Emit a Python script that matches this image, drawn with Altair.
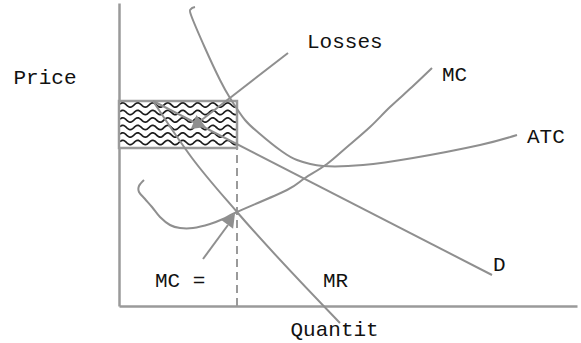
import numpy as np
import pandas as pd
import altair as alt

# Quantity / price units: origin at the axis corner.
MC_Q = [25, 20, 20, 26, 33, 41, 51, 61, 74, 91, 104, 118, 168, 186, 208, 228, 251, 271, 293, 313]
MC_P = [126, 120, 114, 107, 99, 89, 81, 78, 78, 82, 87, 94, 116, 128, 142, 159, 179, 199, 219, 238]

ATC_Q = [76, 72, 72, 86, 101, 111, 126, 141, 161, 178, 204, 244, 294, 361, 398]
ATC_P = [299, 297, 291, 258, 226, 208, 186, 172, 156, 146, 140, 141, 148, 161, 171]

D_Q = [34, 373]
D_P = [205, 31]

MR_Q = [34, 73, 118, 221]
MR_P = [205, 148, 94, -17]

# Loss rectangle (between ATC and price at the chosen output)
LOSS_Q = [0, 118]
LOSS_P = [158, 205]
Q_STAR = 118

# Annotation arrows: start point, end of shaft, head position and heading
ARROW_Q0 = [169, 84]
ARROW_P0 = [253, 47]
ARROW_Q1 = [80, 109]
ARROW_P1 = [184, 81]
HEAD_Q = [77, 112]
HEAD_P = [181, 87]
HEAD_ANGLE = [232, 37]

LABELS = ["Losses", "MC", "ATC", "D", "MR", "MC ="]
LABEL_Q = [188, 323, 408, 374, 204, 36]
LABEL_P = [258, 225, 163, 35, 19, 19]

FONT = "Courier New, Liberation Mono, monospace"
FSIZE = 21
GREY = "#8f8f8f"
AXIS_GREY = "#9a9a9a"

xenc = alt.X(
    "q:Q",
    scale=alt.Scale(domain=[0, 458], nice=False, zero=False),
    axis=alt.Axis(
        ticks=False, labels=False, grid=False,
        domainColor=AXIS_GREY, domainWidth=2.5,
        title="Quantit", titleX=171, titleY=29,
        titleAlign="left", titleBaseline="alphabetic",
        titleFont=FONT, titleFontSize=FSIZE, titleFontWeight="normal",
        titleColor="#111111",
    ),
)
yenc = alt.Y(
    "p:Q",
    scale=alt.Scale(domain=[0, 303], nice=False, zero=False),
    axis=alt.Axis(
        ticks=False, labels=False, grid=False,
        domainColor=AXIS_GREY, domainWidth=2.5,
        title="Price", titleAngle=0, titleX=-106, titleY=80,
        titleAlign="left", titleBaseline="alphabetic",
        titleFont=FONT, titleFontSize=FSIZE, titleFontWeight="normal",
        titleColor="#111111",
    ),
)


def path_df(qs, ps):
    return pd.DataFrame({"q": qs, "p": ps, "i": range(len(qs))})


def curve(qs, ps, interp="linear"):
    return (
        alt.Chart(path_df(qs, ps))
        .mark_line(color=GREY, strokeWidth=2, interpolate=interp)
        .encode(x=xenc, y=yenc, order=alt.Order("i:Q"))
    )


rect_df = pd.DataFrame({"q": [LOSS_Q[0]], "q2": [LOSS_Q[1]], "p": [LOSS_P[0]], "p2": [LOSS_P[1]]})
rect_fill = alt.Chart(rect_df).mark_rect(fill="white").encode(
    x=xenc, x2="q2", y=yenc, y2="p2"
)
rect_border = alt.Chart(rect_df).mark_rect(fill=None, stroke=AXIS_GREY, strokeWidth=2.5).encode(
    x=xenc, x2="q2", y=yenc, y2="p2"
)

# Wavy hatching of the loss area
rows = []
qq = np.linspace(LOSS_Q[0] + 1, LOSS_Q[1] - 1, 120)
for r, base in enumerate([201, 193.5, 186, 178.5, 171, 163.5]):
    for k, qv in enumerate(qq):
        rows.append({"q": qv, "p": base + 2.2 * np.sin(2 * np.pi * qv / 15.0), "row": r, "i": k})
waves = (
    alt.Chart(pd.DataFrame(rows))
    .mark_line(color="#1c1c1c", strokeWidth=1.7)
    .encode(x=xenc, y=yenc, detail="row:N", order=alt.Order("i:Q"))
)

dash_df = pd.DataFrame({"q": [Q_STAR], "p": [0], "p2": [LOSS_P[0]]})
dashed = alt.Chart(dash_df).mark_rule(color=AXIS_GREY, strokeWidth=2, strokeDash=[8, 5]).encode(
    x=xenc, y=yenc, y2="p2"
)

arrow_df = pd.DataFrame({"q": ARROW_Q0, "p": ARROW_P0, "q2": ARROW_Q1, "p2": ARROW_P1})
shafts = alt.Chart(arrow_df).mark_rule(color=GREY, strokeWidth=2).encode(
    x=xenc, y=yenc, x2="q2", y2="p2"
)
head_df = pd.DataFrame({"q": HEAD_Q, "p": HEAD_P, "ang": HEAD_ANGLE})
heads = alt.Chart(head_df).mark_point(
    shape="triangle-up", filled=True, color=GREY, opacity=1, size=230
).encode(x=xenc, y=yenc, angle=alt.Angle("ang:Q", scale=None))

label_df = pd.DataFrame({"q": LABEL_Q, "p": LABEL_P, "txt": LABELS})
labels = alt.Chart(label_df).mark_text(
    align="left", baseline="alphabetic", font=FONT, fontSize=FSIZE, color="#111111"
).encode(x=xenc, y=yenc, text="txt:N")

chart = (
    alt.layer(
        rect_fill,
        waves,
        rect_border,
        dashed,
        curve(D_Q, D_P),
        curve(MR_Q, MR_P, "monotone"),
        curve(ATC_Q, ATC_P, "cardinal"),
        curve(MC_Q, MC_P, "cardinal"),
        shafts,
        heads,
        labels,
    )
    .properties(
        width=458,
        height=303,
        autosize=alt.AutoSizeParams(type="none"),
        padding={"left": 119, "top": 3, "right": 4, "bottom": 37},
        background="white",
    )
    .configure_view(stroke=None)
)

chart.save("out.html", embed_options={"renderer": "svg", "actions": False})
